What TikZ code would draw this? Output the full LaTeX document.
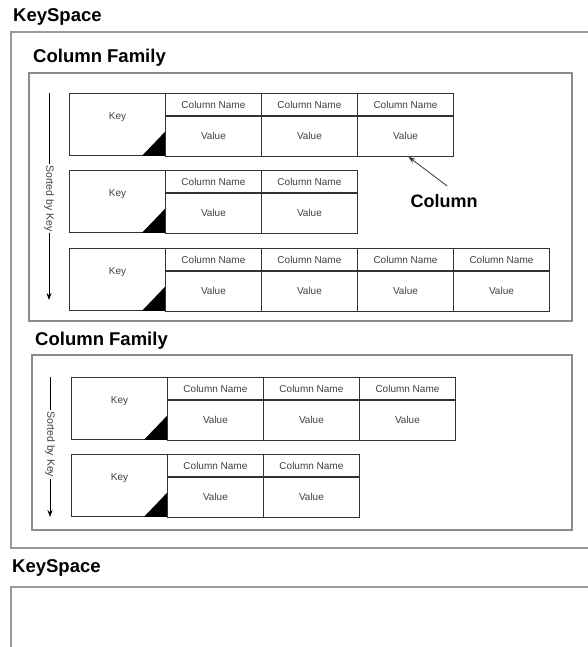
\documentclass[tikz,border=0pt]{standalone}
\usepackage{fontspec}
\setmainfont{Liberation Sans}
\usepackage{tikz}
\usetikzlibrary{arrows.meta,positioning,calc}

\tikzset{
  spacebox/.style={draw=gray!80, line width=1.6pt},
  familybox/.style={draw=gray!90, line width=1.3pt},
  heading/.style={anchor=west, inner sep=0pt, font=\fontsize{18.5}{22}\selectfont\bfseries},
  cell/.style={draw=black!80, line width=0.9pt, inner sep=0pt, text=black!75,
    font=\fontsize{10}{11}\selectfont},
  keycell/.style={cell, anchor=north west, minimum width=96pt, minimum height=62pt},
  namecell/.style={cell, anchor=north west, minimum width=96pt, minimum height=22pt},
  valuecell/.style={cell, minimum width=96pt, minimum height=40pt},
  sorttext/.style={fill=white, inner sep=1.5pt, rotate=-90, text=black!75,
    font=\fontsize{10.5}{12}\selectfont},
}

\begin{document}
\begin{tikzpicture}[x=1pt, y=-1pt]
    \useasboundingbox (0,0) rectangle (587,647);

    % keyspace boxes
    \node[heading] (ks1) at (13,17) {KeySpace};
    \draw[spacebox] (11,32) rectangle (600,548);
    \node[heading] (ks2) at (12,568) {KeySpace};
    \draw[spacebox] (11,587) rectangle (600,660);

    % column family boxes
    \node[heading] (cf1) at (33,58) {Column Family};
    \draw[familybox] (29,73) rectangle (572,321);
    \node[heading] (cf2) at (35,341) {Column Family};
    \draw[familybox] (32,355) rectangle (572,530);

    % rows: key cell, then column name / value cells
    \foreach \r/\x/\y/\n in {1/69/93/3, 2/69/170/2, 3/69/248/4, 4/71/377/3, 5/71/454/2} {
        \node[keycell] (k\r) at (\x,\y) {};
        \node[text=black!75, font=\fontsize{10}{11}\selectfont] (kt\r)
            at ([yshift=7pt]k\r.center) {Key};
        \fill ([xshift=-24pt]k\r.south east) -- (k\r.south east)
            -- ([yshift=25pt]k\r.south east) -- cycle;
        \foreach \c in {1,...,\n} {
            \node[namecell] (n\r\c) at ({\x+96*\c},\y) {Column Name};
            \node[valuecell, below=0pt of n\r\c] (v\r\c) {Value};
        }
    }

    % sorted by key
    \coordinate (s1top) at (49,93);
    \coordinate (s1bot) at (49,300);
    \draw[-{Stealth[length=7pt,width=5pt]}, line width=0.9pt] (s1top) -- (s1bot);
    \node[sorttext] (s1) at ($(s1top)!0.51!(s1bot)$) {Sorted by Key};
    \coordinate (s2top) at (50,377);
    \coordinate (s2bot) at (50,517);
    \draw[-{Stealth[length=7pt,width=5pt]}, line width=0.9pt] (s2top) -- (s2bot);
    \node[sorttext] (s2) at ($(s2top)!0.48!(s2bot)$) {Sorted by Key};

    % column callout
    \node[font=\fontsize{18}{21}\selectfont\bfseries] (col) at (444,201) {Column};
    \draw[-{Stealth[length=7pt,width=5pt]}, line width=0.8pt, black!80]
        ([xshift=3pt,yshift=5pt]col.north) -- ([xshift=3pt]v13.south);

\end{tikzpicture}
\end{document}
